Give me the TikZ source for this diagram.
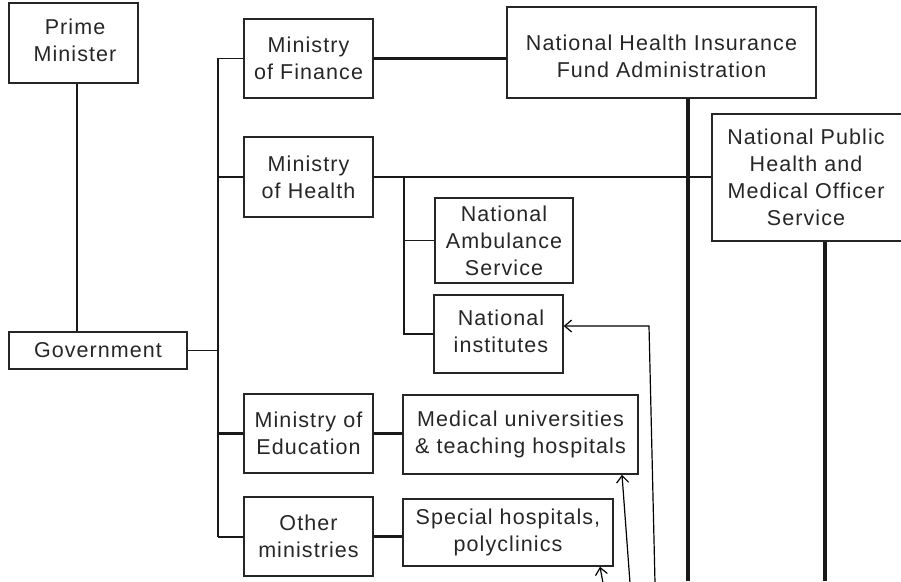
\documentclass[tikz,border=0pt]{standalone}
\usepackage{fontspec}
\setmainfont{Liberation Sans}[LetterSpace=5]
\usetikzlibrary{arrows.meta}
\begin{document}
\begin{tikzpicture}[x=1pt,y=-1pt,
  box/.style={draw=black!85, line width=1.5pt, align=center, inner sep=0pt,
    font=\fontsize{21.5}{27}\selectfont, text=black!85},
  label/.style={box, draw=none},
  link/.style={line width=1.6pt, draw=black!90},
  heavy/.style={line width=2.6pt, draw=black!90},
  spine/.style={line width=3.2pt, draw=black!90},
  feed/.style={line width=1.2pt, draw=black, -{Straight Barb[length=7pt,width=12pt,line width=1.2pt]}}]
\useasboundingbox (0,0) rectangle (901,581);
\clip (0,0) rectangle (901,581);

% boxes
\node[box, minimum width=129, minimum height=80] (pm)  at (73.5,43)  {};
\node[label] at (75,40) {Prime\\Minister};
\node[box, minimum width=178, minimum height=37] (gov) at (98,350.5)  {Government};
\node[box, minimum width=129, minimum height=79] (fin) at (308.5,58.5) {Ministry\\of Finance};
\node[box, minimum width=129, minimum height=80] (hea) at (308.5,177) {Ministry\\of Health};
\node[box, minimum width=129, minimum height=79] (edu) at (308.5,433.5) {Ministry of\\Education};
\node[box, minimum width=129, minimum height=79] (oth) at (308.5,536.5) {Other\\ministries};
\node[box, minimum width=309, minimum height=91] (nhi) at (661.5,52.5) {};
\node[label] at (661.5,56.5) {National Health Insurance\\Fund Administration};
\node[box, minimum width=196, minimum height=127] (nph) at (810,177.5) {};
\node[label] at (806,177.5) {National Public\\Health and\\Medical Officer\\Service};
\node[box, minimum width=138, minimum height=85] (amb) at (504,240.5) {National\\Ambulance\\Service};
\node[box, minimum width=129, minimum height=78] (ins) at (498.5,334) {};
\node[label] at (501,331) {National\\institutes};
\node[box, minimum width=235, minimum height=79] (med) at (520.5,434.5) {Medical universities\\\& teaching hospitals};
\node[box, minimum width=210, minimum height=67] (spe) at (508,532.5) {Special hospitals,\\polyclinics};

% reference points
\coordinate (tk) at (218,0);
\coordinate (hb) at (404,177);
\coordinate (nb) at (688,581);
\coordinate (pb) at (825,581);
\coordinate (ic) at (649,326);
\coordinate (a1) at (655,583);
\coordinate (a2) at (630,583);
\coordinate (t2) at (622,0);
\coordinate (a3) at (603,583);
\coordinate (t3) at (600,0);

% government to ministries
\draw[link] ([xshift=3.5pt]pm.south) -- ([xshift=3.5pt]pm.south |- gov.north);
\draw[link] (gov.east) -- (gov.east -| tk);
\draw[link] (fin.west) -- (fin.west -| tk) -- (oth.west -| tk);
\draw[link] (hea.west) -- (hea.west -| tk);
\draw[heavy] (edu.west) -- (edu.west -| tk);
\draw[heavy] ([yshift=-0.5pt]oth.west) -- ([yshift=-0.5pt]oth.west -| tk);

% ministries to agencies
\draw[heavy] (fin.east) -- (fin.east -| nhi.west);
\draw[link] (hea.east) -- (hea.east -| nph.west);
\draw[link] (hb) |- (ins.west);
\draw[link] (amb.west) -- (amb.west -| hb);
\draw[heavy] (edu.east) -- (edu.east -| med.west);
\draw[heavy] (oth.east) -- (oth.east -| spe.west);

% funding spines
\draw[spine] (nhi.south -| nb) -- (nb);
\draw[spine] (nph.south -| pb) -- (pb);

% arrows into institutions
\draw[feed] (a1) -- (ic) -- (ic -| ins.east);
\draw[feed] (a2) -- (med.south -| t2);
\draw[feed] (a3) -- (spe.south -| t3);
\end{tikzpicture}
\end{document}
